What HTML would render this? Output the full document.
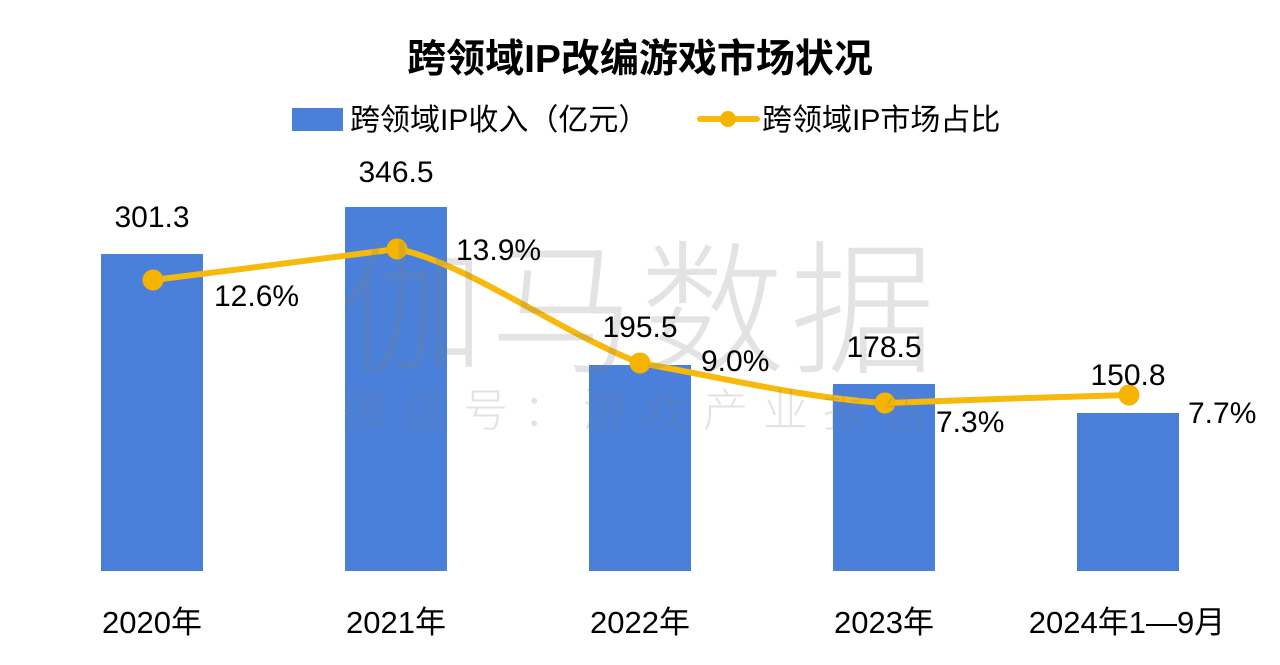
<!DOCTYPE html>
<html>
<head>
<meta charset="utf-8">
<style>
  html, body { margin: 0; padding: 0; background: #ffffff; }
  body { width: 1280px; height: 665px; overflow: hidden; }
  svg { display: block; }
  .t { font-family: "Liberation Sans", "Noto Sans CJK SC", sans-serif; fill: #000; }
  .wm { font-family: "Noto Sans CJK SC", "WenQuanYi Zen Hei", sans-serif; font-weight: 300; fill: #7f7f7f; fill-opacity: 0.22; }
</style>
</head>
<body>
<svg width="1280" height="665" viewBox="0 0 1280 665" xmlns="http://www.w3.org/2000/svg">
  <rect width="1280" height="665" fill="#ffffff"/>

  <!-- Title -->
  <text class="t" x="640" y="72" text-anchor="middle" font-size="39" font-weight="bold">跨领域IP改编游戏市场状况</text>

  <!-- Legend -->
  <rect x="292" y="108" width="51" height="23" fill="#4a80d9"/>
  <text class="t" x="350" y="130" font-size="30">跨领域IP收入（亿元）</text>
  <line x1="700" y1="119" x2="757" y2="119" stroke="#f7b90c" stroke-width="6" stroke-linecap="round"/>
  <circle cx="728" cy="119" r="8" fill="#f4b400"/>
  <text class="t" x="762" y="130" font-size="30">跨领域IP市场占比</text>

  <!-- Bars -->
  <rect x="101" y="254" width="102" height="317" fill="#4a80d9"/>
  <rect x="345" y="207" width="102" height="364" fill="#4a80d9"/>
  <rect x="589" y="365" width="102" height="206" fill="#4a80d9"/>
  <rect x="833" y="384" width="102" height="187" fill="#4a80d9"/>
  <rect x="1077" y="413" width="102" height="158" fill="#4a80d9"/>

  <!-- Line -->
  <path d="M153,280 C233,270 340,257 397,249 C465,262 565,335 640,363 C720,377 803,398 885,403 C966,400 1048,397 1129,395"
        fill="none" stroke="#f7b90c" stroke-width="6" stroke-linejoin="round" stroke-linecap="round"/>
  <circle cx="153" cy="280" r="10.5" fill="#f4b400"/>
  <circle cx="397" cy="249" r="10.5" fill="#f4b400"/>
  <circle cx="640" cy="363" r="10.5" fill="#f4b400"/>
  <circle cx="885" cy="403" r="10.5" fill="#f4b400"/>
  <circle cx="1129" cy="395" r="10.5" fill="#f4b400"/>

  <!-- Watermark -->
  <text class="wm" x="340" y="362" font-size="145" letter-spacing="5">伽马数据</text>
  <text class="wm" x="343" y="426" font-size="45" letter-spacing="15">微信号：游戏产业报告</text>

  <!-- Bar value labels -->
  <text class="t" x="152" y="227" text-anchor="middle" font-size="30">301.3</text>
  <text class="t" x="396" y="182" text-anchor="middle" font-size="30">346.5</text>
  <text class="t" x="640" y="337" text-anchor="middle" font-size="30">195.5</text>
  <text class="t" x="884" y="357" text-anchor="middle" font-size="30">178.5</text>
  <text class="t" x="1128" y="385" text-anchor="middle" font-size="30">150.8</text>

  <!-- Percentage labels -->
  <text class="t" x="214" y="306" font-size="30">12.6%</text>
  <text class="t" x="456" y="260" font-size="30">13.9%</text>
  <text class="t" x="701" y="371" font-size="30">9.0%</text>
  <text class="t" x="936" y="432" font-size="30">7.3%</text>
  <text class="t" x="1188" y="423" font-size="30">7.7%</text>

  <!-- X axis labels -->
  <text class="t" x="152" y="633" text-anchor="middle" font-size="31">2020年</text>
  <text class="t" x="396" y="633" text-anchor="middle" font-size="31">2021年</text>
  <text class="t" x="640" y="633" text-anchor="middle" font-size="31">2022年</text>
  <text class="t" x="884" y="633" text-anchor="middle" font-size="31">2023年</text>
  <text class="t" x="1127" y="633" text-anchor="middle" font-size="31">2024年1—9月</text>
</svg>
</body>
</html>
